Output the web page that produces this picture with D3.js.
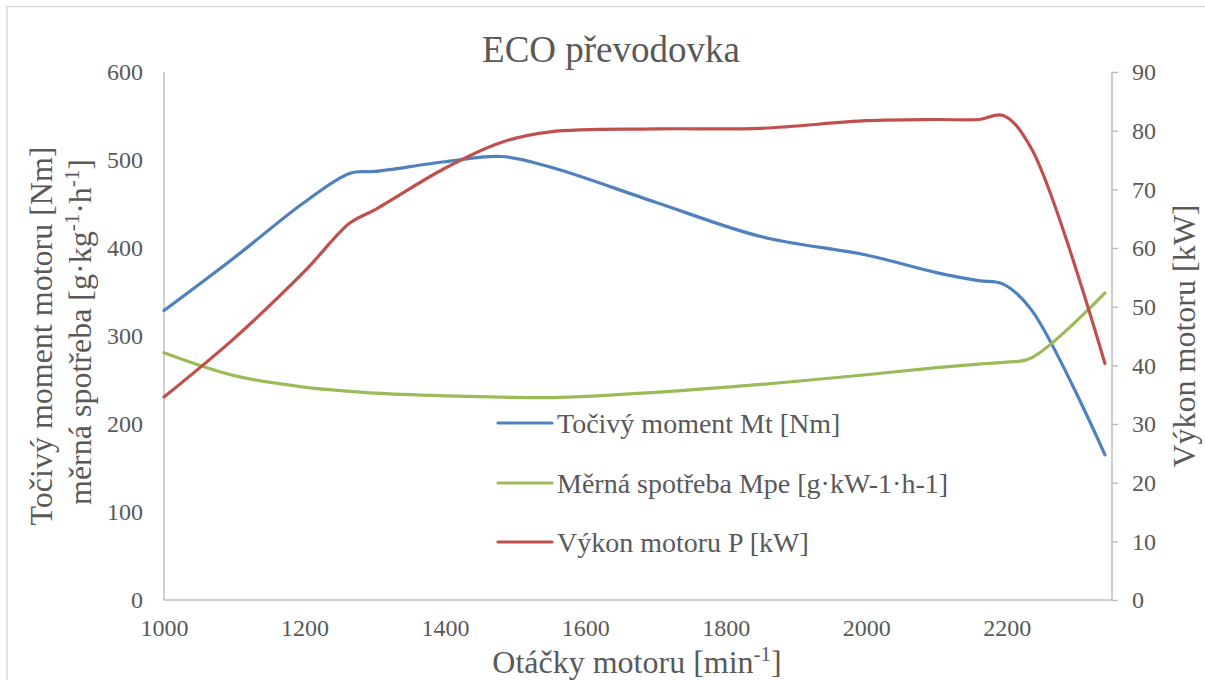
<!DOCTYPE html>
<html>
<head>
<meta charset="utf-8">
<script src="https://cdn.jsdelivr.net/npm/d3@7"></script>
<style>
  html, body { margin: 0; padding: 0; background: #fff; }
  svg text { font-family: "Liberation Serif", "Times New Roman", serif; fill: #595959; }
</style>
</head>
<body>
<svg id="chart" width="1205" height="680"></svg>
<script>
// ---- data ----
const rpm      = [1000, 1100, 1200, 1265, 1300, 1400, 1480, 1550, 1700, 1850, 2000, 2100, 2160, 2195, 2235, 2340];
const torque   = [329, 389, 452, 485, 487, 498, 504, 492, 452, 413, 392, 372, 363, 359, 330, 165];
const fuel     = [281, 255, 242, 237, 235, 232, 230.5, 230, 236, 245, 256, 264, 268, 270, 275, 349];
const power    = [34.6, 44.6, 56.0, 64.3, 66.5, 73.6, 78.0, 79.8, 80.3, 80.4, 81.7, 81.9, 81.9, 82.6, 77.0, 40.3];
const xTicks   = [1000, 1200, 1400, 1600, 1800, 2000, 2200];
const yLeftTicks  = [0, 100, 200, 300, 400, 500, 600];
const yRightTicks = [0, 10, 20, 30, 40, 50, 60, 70, 80, 90];
const seriesNames = ["Točivý moment Mt [Nm]", "Měrná spotřeba Mpe [g·kW-1·h-1]", "Výkon motoru P [kW]"];
const seriesColors = ["#4F81BD", "#9BBB59", "#C0504D"];

const svg = d3.select("#chart");
const L = 164, R = 1112, T = 72, B = 600;

// outer border
svg.append("rect").attr("x", 7).attr("y", 6.5).attr("width", 1210).attr("height", 700)
  .attr("fill", "none").attr("stroke", "#d9d9d9").attr("stroke-width", 1.5);

const x = d3.scaleLinear().domain([1000, 2350]).range([L, R]);
const yL = d3.scaleLinear().domain([0, 600]).range([B, T]);
const yR = d3.scaleLinear().domain([0, 90]).range([B, T]);

// axes
const gx = svg.append("g").attr("transform", `translate(0,${B})`)
  .call(d3.axisBottom(x).tickValues(xTicks).tickSize(0).tickPadding(19).tickFormat(d3.format("d")));
const gl = svg.append("g").attr("transform", `translate(${L},0)`)
  .call(d3.axisLeft(yL).tickValues(yLeftTicks).tickSize(0).tickPadding(21));
const gr = svg.append("g").attr("transform", `translate(${R},0)`)
  .call(d3.axisRight(yR).tickValues(yRightTicks).tickSize(6).tickPadding(14));

[gx, gl, gr].forEach(g => {
  g.select(".domain").attr("stroke", "#bfbfbf").attr("stroke-width", 1.5);
  g.selectAll(".tick line").attr("stroke", "#bfbfbf").attr("stroke-width", 1.5);
  g.selectAll(".tick text").attr("font-size", 24).attr("fill", "#595959")
    .attr("font-family", '"Liberation Serif", "Times New Roman", serif');
});
gx.select(".domain").attr("d", `M${L},0H${R}`);
gr.select(".domain").attr("d", `M0,${T}V${B}`);
gl.select(".domain").attr("d", `M0,${T}V${B}`);

// lines
const data = [torque, fuel, power];
const scales = [yL, yL, yR];
data.forEach((vals, i) => {
  const line = d3.line()
    .x((d, j) => x(rpm[j]))
    .y(d => scales[i](d))
    .curve(d3.curveCatmullRom.alpha(0.5));
  svg.append("path").datum(vals)
    .attr("d", line)
    .attr("fill", "none")
    .attr("stroke", seriesColors[i])
    .attr("stroke-width", 3.2)
    .attr("stroke-linecap", "round")
    .attr("stroke-linejoin", "round");
});

// title
svg.append("text").attr("x", 611).attr("y", 62).attr("text-anchor", "middle")
  .attr("font-size", 37).text("ECO převodovka");

// bottom axis title
const bt = svg.append("text").attr("x", 637).attr("y", 673).attr("text-anchor", "middle").attr("font-size", 32);
bt.append("tspan").text("Otáčky motoru [min");
bt.append("tspan").attr("font-size", 21).attr("dy", -12).text("-1");
bt.append("tspan").attr("dy", 12).text("]");

// left axis titles
svg.append("text").attr("transform", `translate(52,${(T + B) / 2}) rotate(-90)`)
  .attr("text-anchor", "middle").attr("font-size", 32).text("Točivý moment motoru [Nm]");
const lt2 = svg.append("text").attr("transform", `translate(91,${(T + B) / 2 - 4}) rotate(-90)`)
  .attr("text-anchor", "middle").attr("font-size", 32);
lt2.append("tspan").text("měrná spotřeba [g·kg");
lt2.append("tspan").attr("font-size", 21).attr("dy", -12).text("-1");
lt2.append("tspan").attr("dy", 12).text("·h");
lt2.append("tspan").attr("font-size", 21).attr("dy", -12).text("-1");
lt2.append("tspan").attr("dy", 12).text("]");

// right axis title
svg.append("text").attr("transform", `translate(1195,${(T + B) / 2}) rotate(-90)`)
  .attr("text-anchor", "middle").attr("font-size", 32).text("Výkon motoru [kW]");

// legend
const legendY = [423, 483, 542];
seriesNames.forEach((name, i) => {
  svg.append("line").attr("x1", 498).attr("x2", 552).attr("y1", legendY[i]).attr("y2", legendY[i])
    .attr("stroke", seriesColors[i]).attr("stroke-width", 3.2).attr("stroke-linecap", "round");
  svg.append("text").attr("x", 557).attr("y", legendY[i] + 9.5).attr("font-size", 28).text(name);
});
</script>
</body>
</html>
